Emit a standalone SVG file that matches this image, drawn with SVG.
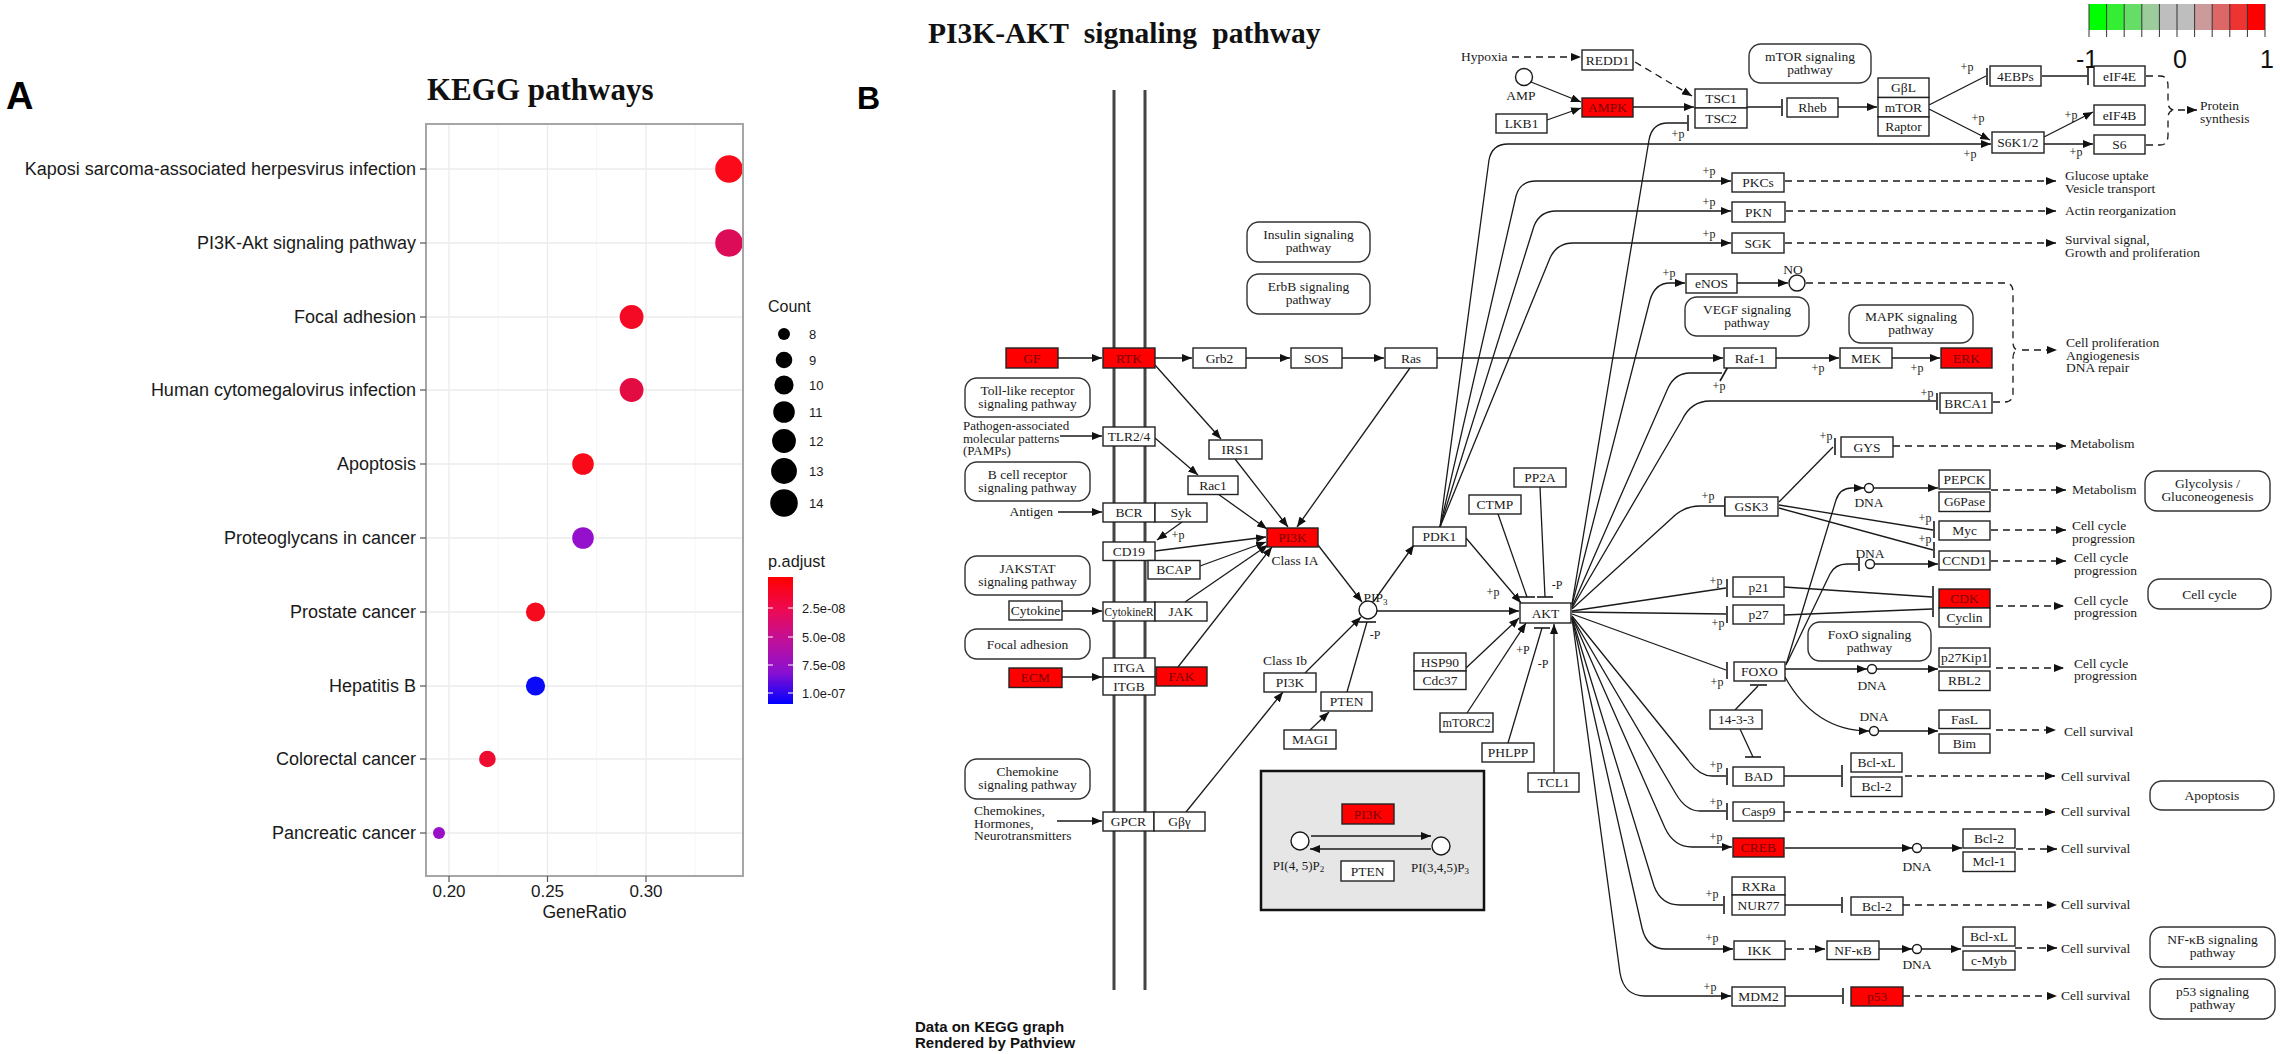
<svg xmlns="http://www.w3.org/2000/svg" width="2280" height="1054" viewBox="0 0 2280 1054">
<defs>
<style>
.sans{font-family:"Liberation Sans",Arial,sans-serif}
.ylab{font-size:18px;fill:#1a1a1a;text-anchor:end}
.xlab{font-size:17px;fill:#1a1a1a;text-anchor:middle}
.leg{font-size:13px;fill:#1a1a1a}
.grid{stroke:#ebebeb;stroke-width:1.3}
.gridm{stroke:#f4f4f4;stroke-width:0.8}
.tick{stroke:#555;stroke-width:1.2}
.box{fill:#fff;stroke:#222;stroke-width:1.4}
.red{fill:#ff0000;stroke:#222;stroke-width:1.4}
.pw{fill:#fff;stroke:#333;stroke-width:1.4}
.k{font-family:"Liberation Serif","Times New Roman",serif;font-size:13.5px;fill:#1a1a1a;text-anchor:middle}
.kl{text-anchor:start}
.kr{text-anchor:end}
.rt{fill:#7a0000}
.p{font-size:12px}
.ln{fill:none;stroke:#1a1a1a;stroke-width:1.3}
.ds{stroke-dasharray:7 5}
.ar{marker-end:url(#arr)}
.bar{stroke:#1a1a1a;stroke-width:1.6;fill:none}
.cir{fill:#fff;stroke:#1a1a1a;stroke-width:1.4}
.mem{stroke:#444;stroke-width:3;fill:none}
</style>
<marker id="arr" viewBox="0 0 10 8" refX="10" refY="4" markerWidth="10" markerHeight="8" markerUnits="userSpaceOnUse" orient="auto"><path d="M0,0 L10,4 L0,8 z" fill="#111"/></marker>
<linearGradient id="padj" x1="0" y1="0" x2="0" y2="1">
<stop offset="0" stop-color="#ff0000"/>
<stop offset="0.25" stop-color="#ee0a50"/>
<stop offset="0.5" stop-color="#c0109a"/>
<stop offset="0.75" stop-color="#8a10d0"/>
<stop offset="1" stop-color="#0000ff"/>
</linearGradient>
</defs>
<rect width="2280" height="1054" fill="#fff"/>

<!-- ================= Panel A ================= -->
<g id="panelA" class="sans">
<text x="6" y="109" style="font-size:38px;font-weight:bold;fill:#000">A</text>
<text x="427" y="100" style="font-family:'Liberation Serif',serif;font-size:31px;font-weight:bold;fill:#111">KEGG pathways</text>
<g id="plotpanel">
<rect x="426" y="124" width="317" height="752" fill="#fff"/>
<g class="gridm">
<line x1="498" y1="124" x2="498" y2="876"/><line x1="596.5" y1="124" x2="596.5" y2="876"/><line x1="695" y1="124" x2="695" y2="876"/>
</g>
<g class="grid">
<line x1="449" y1="124" x2="449" y2="876"/><line x1="547.5" y1="124" x2="547.5" y2="876"/><line x1="646" y1="124" x2="646" y2="876"/>
<line x1="426" y1="169" x2="743" y2="169"/><line x1="426" y1="243" x2="743" y2="243"/><line x1="426" y1="317" x2="743" y2="317"/>
<line x1="426" y1="390" x2="743" y2="390"/><line x1="426" y1="464" x2="743" y2="464"/><line x1="426" y1="538" x2="743" y2="538"/>
<line x1="426" y1="612" x2="743" y2="612"/><line x1="426" y1="686" x2="743" y2="686"/><line x1="426" y1="759" x2="743" y2="759"/>
<line x1="426" y1="833" x2="743" y2="833"/>
</g>
<g id="dots">
<circle cx="729" cy="169" r="13.8" fill="#fb0a1a"/>
<circle cx="729" cy="243" r="13.8" fill="#dc0c58"/>
<circle cx="631.6" cy="317" r="11.9" fill="#f40a24"/>
<circle cx="631.6" cy="390" r="11.9" fill="#e20b42"/>
<circle cx="583" cy="464" r="10.8" fill="#f90a18"/>
<circle cx="583" cy="538" r="10.8" fill="#9510cc"/>
<circle cx="535.5" cy="612" r="9.6" fill="#f60a1e"/>
<circle cx="535.5" cy="686" r="9.6" fill="#0a0af8"/>
<circle cx="487.4" cy="759" r="8.3" fill="#ee0c30"/>
<circle cx="439" cy="833" r="6" fill="#9a10c8"/>
</g>
<rect x="426" y="124" width="317" height="752" fill="none" stroke="#a6a6a6" stroke-width="2"/>
</g>
<g class="tick">
<line x1="420" y1="169" x2="426" y2="169"/><line x1="420" y1="243" x2="426" y2="243"/><line x1="420" y1="317" x2="426" y2="317"/>
<line x1="420" y1="390" x2="426" y2="390"/><line x1="420" y1="464" x2="426" y2="464"/><line x1="420" y1="538" x2="426" y2="538"/>
<line x1="420" y1="612" x2="426" y2="612"/><line x1="420" y1="686" x2="426" y2="686"/><line x1="420" y1="759" x2="426" y2="759"/>
<line x1="420" y1="833" x2="426" y2="833"/>
<line x1="449" y1="876" x2="449" y2="882"/><line x1="547.5" y1="876" x2="547.5" y2="882"/><line x1="646" y1="876" x2="646" y2="882"/>
</g>
<g id="ylabels" class="ylab">
<text x="416" y="175">Kaposi sarcoma-associated herpesvirus infection</text>
<text x="416" y="249">PI3K-Akt signaling pathway</text>
<text x="416" y="323">Focal adhesion</text>
<text x="416" y="396">Human cytomegalovirus infection</text>
<text x="416" y="470">Apoptosis</text>
<text x="416" y="544">Proteoglycans in cancer</text>
<text x="416" y="618">Prostate cancer</text>
<text x="416" y="692">Hepatitis B</text>
<text x="416" y="765">Colorectal cancer</text>
<text x="416" y="839">Pancreatic cancer</text>
</g>
<g id="xlabels" class="xlab">
<text x="449" y="897">0.20</text><text x="547.5" y="897">0.25</text><text x="646" y="897">0.30</text>
<text x="584.5" y="918" style="font-size:17.6px">GeneRatio</text>
</g>
<g id="legend-count">
<text x="768" y="312" style="font-size:16px;fill:#1a1a1a">Count</text>
<circle cx="784" cy="334" r="6" fill="#000"/>
<circle cx="784" cy="360" r="8.3" fill="#000"/>
<circle cx="784" cy="385" r="9.6" fill="#000"/>
<circle cx="784" cy="412" r="10.8" fill="#000"/>
<circle cx="784" cy="441" r="11.9" fill="#000"/>
<circle cx="784" cy="471" r="12.9" fill="#000"/>
<circle cx="784" cy="503" r="13.8" fill="#000"/>
<g class="leg">
<text x="809" y="338.5">8</text><text x="809" y="364.5">9</text><text x="809" y="389.5">10</text><text x="809" y="416.5">11</text>
<text x="809" y="445.5">12</text><text x="809" y="475.5">13</text><text x="809" y="507.5">14</text>
</g>
</g>
<g id="legend-padj">
<text x="768" y="567" style="font-size:16.3px;fill:#1a1a1a">p.adjust</text>
<rect x="768" y="577" width="25" height="127" fill="url(#padj)"/>
<g stroke="#fff" stroke-width="1">
<line x1="768" y1="608" x2="773" y2="608"/><line x1="788" y1="608" x2="793" y2="608"/>
<line x1="768" y1="637" x2="773" y2="637"/><line x1="788" y1="637" x2="793" y2="637"/>
<line x1="768" y1="665" x2="773" y2="665"/><line x1="788" y1="665" x2="793" y2="665"/>
<line x1="768" y1="693" x2="773" y2="693"/><line x1="788" y1="693" x2="793" y2="693"/>
</g>
<g class="leg" style="font-size:12.8px">
<text x="802" y="612.5">2.5e-08</text><text x="802" y="641.5">5.0e-08</text>
<text x="802" y="669.5">7.5e-08</text><text x="802" y="697.5">1.0e-07</text>
</g>
</g>
</g>

<!-- ================= Panel B ================= -->
<g id="panelB-labels">
<text x="857" y="109" class="sans" style="font-size:32px;font-weight:bold;fill:#000">B</text>
<text x="928" y="43" style="font-family:'Liberation Serif',serif;font-size:29.5px;font-weight:bold;fill:#111;word-spacing:8px">PI3K-AKT signaling pathway</text>
<text x="915" y="1032" class="sans" style="font-size:15px;font-weight:bold;fill:#111">Data on KEGG graph</text>
<text x="915" y="1048" class="sans" style="font-size:15px;font-weight:bold;fill:#111">Rendered by Pathview</text>
</g>

<g id="colorkey">
<rect x="2089" y="4" width="17.7" height="26" fill="#00ff00"/>
<rect x="2106.6" y="4" width="17.7" height="26" fill="#33ee33"/>
<rect x="2124.2" y="4" width="17.7" height="26" fill="#66dd66"/>
<rect x="2141.8" y="4" width="17.7" height="26" fill="#9ccb9c"/>
<rect x="2159.4" y="4" width="17.7" height="26" fill="#bebebe"/>
<rect x="2177" y="4" width="17.7" height="26" fill="#bebebe"/>
<rect x="2194.6" y="4" width="17.7" height="26" fill="#cc9a9a"/>
<rect x="2212.2" y="4" width="17.7" height="26" fill="#dd6666"/>
<rect x="2229.8" y="4" width="17.7" height="26" fill="#ee3333"/>
<rect x="2247.4" y="4" width="17.6" height="26" fill="#ff0000"/>
<g stroke="#333" stroke-width="1">
<line x1="2089" y1="4" x2="2089" y2="37"/><line x1="2106.6" y1="4" x2="2106.6" y2="37"/><line x1="2124.2" y1="4" x2="2124.2" y2="37"/>
<line x1="2141.8" y1="4" x2="2141.8" y2="37"/><line x1="2159.4" y1="4" x2="2159.4" y2="37"/><line x1="2177" y1="4" x2="2177" y2="37"/>
<line x1="2194.6" y1="4" x2="2194.6" y2="37"/><line x1="2212.2" y1="4" x2="2212.2" y2="37"/><line x1="2229.8" y1="4" x2="2229.8" y2="37"/>
<line x1="2247.4" y1="4" x2="2247.4" y2="37"/><line x1="2265" y1="4" x2="2265" y2="37"/>
</g>
<g class="sans" style="font-size:25px;fill:#111;text-anchor:middle">
<text x="2087" y="68">-1</text><text x="2180" y="68">0</text><text x="2267" y="68">1</text>
</g>
</g>

<g id="membrane">
<line class="mem" x1="1114" y1="90" x2="1114" y2="990"/>
<line class="mem" x1="1145" y1="90" x2="1145" y2="990"/>
</g>

<g id="inset-bg">
<rect x="1261" y="771" width="223" height="139" fill="#e6e6e6" stroke="#111" stroke-width="2.5"/>
</g>

<!-- ================= Connectors ================= -->
<g id="connectors">
<g class="ln ar">
<path d="M1058,358 L1102,358"/>
<path d="M1155,358 L1192,358"/>
<path d="M1246,358 L1290,358"/>
<path d="M1342,358 L1384,358"/>
<path d="M1437,358 L1723,358"/>
<path d="M1776,358 L1839,358"/>
<path d="M1892,358 L1940,358"/>
<path d="M1060,436 L1102,436"/>
<path d="M1058,512 L1102,512"/>
<path d="M1062,611 L1102,611"/>
<path d="M1062,677 L1102,677"/>
<path d="M1057,821 L1102,821"/>
<path d="M1155,365 L1221,439"/>
<path d="M1155,438 L1198,475"/>
<path d="M1235,459 L1288,527"/>
<path d="M1218,494 L1267,529"/>
<path d="M1410,368 L1297,527"/>
<path d="M1182,522 L1157,540"/>
<path d="M1155,551 L1266,537"/>
<path d="M1200,566 L1266,542"/>
<path d="M1185,602 L1268,545"/>
<path d="M1178,667 L1272,547"/>
<path d="M1186,812 L1283,692"/>
<path d="M1318,545 L1362,602"/>
<path d="M1305,673 L1361,617"/>
<path d="M1374,601 L1414,545"/>
<path d="M1377,611 L1519,611"/>
<path d="M1466,538 L1521,603"/>
<path d="M1466,668 L1519,618"/>
<path d="M1467,713 L1526,623"/>
<path d="M1554,773 L1554,624"/>
<path d="M1310,730 L1329,712"/>
<path d="M1531,82 L1581,102"/>
<path d="M1547,120 L1581,108"/>
<path d="M1633,107 L1694,107"/>
<path d="M1838,107 L1877,107"/>
<path d="M1929,109 L1990,140"/>
<path d="M2044,137 L2093,112"/>
<path d="M2044,144 L2093,144"/>
<path d="M1737,283 L1788,283"/>
<path d="M1440,527 L1489,160 Q1492,144 1508,144 L1991,144"/>
<path d="M1440,527 L1516,196 Q1520,181 1536,181 L1731,181"/>
<path d="M1440,527 L1534,226 Q1540,211 1556,211 L1731,211"/>
<path d="M1440,527 L1550,258 Q1557,243 1573,243 L1731,243"/>
<path d="M1572,605 L1650,300 Q1655,283 1670,283 L1685,283"/>
<path d="M1786,665 L1836,500 Q1840,488 1852,488 L1864,488"/>
<path d="M1874,488 L1938,488"/>
<path d="M1875,564 L1938,564"/>
<path d="M1785,669 L1867,669"/>
<path d="M1877,669 L1938,669"/>
<path d="M1785,677 Q1815,731 1869,731"/>
<path d="M1879,731 L1938,731"/>
<path d="M1785,848 L1912,848"/>
<path d="M1922,848 L1962,848"/>
<path d="M1879,949 L1912,949"/>
<path d="M1922,949 L1961,949"/>
<path d="M1572,617 L1665,828 Q1674,847 1692,847 L1732,847"/>
<path d="M1572,618 L1642,928 Q1647,949 1666,949 L1733,949"/>
<path d="M1572,618 L1620,973 Q1624,996 1645,996 L1731,996"/>
<path d="M1311,836 L1431,836"/>
<path d="M1431,849 L1310,849"/>
</g>
<g class="ln">
<path d="M1747,107 L1781,107"/>
<path d="M1572,604 L1649,140 Q1652,123 1668,123 L1687,123"/>
<path d="M2042,76 L2087,76"/>
<path d="M1929,105 L1986,76"/>
<path d="M1498,514 L1527,597"/>
<path d="M1540,487 L1545,597"/>
<path d="M1347,692 L1367,622"/>
<path d="M1508,743 L1542,628"/>
<path d="M1572,607 L1668,388 Q1675,373 1690,373 L1722,373"/>
<path d="M1572,608 L1682,420 Q1691,401 1710,401 L1936,401"/>
<path d="M1572,609 L1672,518 Q1684,506 1700,506 L1724,506"/>
<path d="M1779,502 L1833,447"/>
<path d="M1779,505 L1933,530"/>
<path d="M1779,508 L1933,550"/>
<path d="M1572,611 L1726,588"/>
<path d="M1572,612 L1726,614"/>
<path d="M1572,614 L1726,670"/>
<path d="M1784,587 L1932,597"/>
<path d="M1784,615 L1932,609"/>
<path d="M1787,663 L1830,574 Q1835,564 1847,564 L1858,564"/>
<path d="M1735,710 L1758,686"/>
<path d="M1740,729 L1753,757"/>
<path d="M1572,616 L1688,760 Q1699,776 1712,776 L1726,776"/>
<path d="M1572,617 L1676,794 Q1686,811 1700,811 L1726,811"/>
<path d="M1572,618 L1654,886 Q1661,905 1680,905 L1723,905"/>
<path d="M1784,776 L1841,776"/>
<path d="M1785,905 L1841,905"/>
<path d="M1785,996 L1842,996"/>
</g>
<g class="bar">
<path d="M1782,99 L1782,116"/>
<path d="M1688,115 L1688,131"/>
<path d="M2088,68 L2088,85"/>
<path d="M1987,68 L1987,85"/>
<path d="M1519,597 L1535,597"/>
<path d="M1537,597 L1553,597"/>
<path d="M1359,622 L1376,622"/>
<path d="M1534,628 L1550,628"/>
<path d="M1720,381 L1729,365"/>
<path d="M1937,393 L1937,410"/>
<path d="M1725,498 L1725,515"/>
<path d="M1835,438 L1835,455"/>
<path d="M1934,521 L1934,538"/>
<path d="M1934,542 L1934,558"/>
<path d="M1727,579 L1727,597"/>
<path d="M1727,606 L1727,623"/>
<path d="M1727,662 L1727,679"/>
<path d="M1933,586 L1933,617"/>
<path d="M1859,557 L1859,571"/>
<path d="M1750,685 L1767,685"/>
<path d="M1745,757 L1761,757"/>
<path d="M1727,768 L1727,785"/>
<path d="M1727,803 L1727,820"/>
<path d="M1724,896 L1724,914"/>
<path d="M1842,765 L1842,787"/>
<path d="M1842,897 L1842,913"/>
<path d="M1843,988 L1843,1004"/>
</g>
<g class="ln ds ar">
<path d="M1512,57 L1581,57"/>
<path d="M1635,62 L1692,96"/>
<path d="M1785,181 L2056,181"/>
<path d="M1786,211 L2056,211"/>
<path d="M1785,243 L2056,243"/>
<path d="M1893,446 L2066,446"/>
<path d="M1991,490 L2066,490"/>
<path d="M1991,530 L2066,530"/>
<path d="M1991,561 L2066,561"/>
<path d="M1996,606 L2064,606"/>
<path d="M1996,668 L2064,668"/>
<path d="M1996,730 L2056,730"/>
<path d="M1905,776 L2055,776"/>
<path d="M1784,812 L2055,812"/>
<path d="M2016,849 L2057,849"/>
<path d="M1903,905 L2057,905"/>
<path d="M2015,948 L2057,948"/>
<path d="M1903,996 L2057,996"/>
<path d="M1785,949 L1825,949"/>
<path d="M2178,110 L2197,110"/>
<path d="M2022,350 L2057,350"/>
</g>
<g class="ln ds">
<path d="M2146,76 L2160,76 Q2168,76 2168,86 L2168,102 Q2168,110 2175,110"/>
<path d="M2146,145 L2160,145 Q2168,145 2168,135 L2168,118 Q2168,110 2175,110"/>
<path d="M1806,283 L2005,283 Q2013,283 2013,292 L2013,342 Q2013,350 2019,350"/>
<path d="M1993,402 L2005,402 Q2013,402 2013,393 L2013,358 Q2013,350 2019,350"/>
</g>
</g>

<!-- ================= Nodes ================= -->
<g id="nodes">
<g id="n-GF"><rect class="red" x="1006" y="348" width="52" height="20"/><text class="k rt" x="1032" y="362.5">GF</text></g>
<g id="n-RTK"><rect class="red" x="1103" y="348" width="52" height="20"/><text class="k rt" x="1129" y="362.5">RTK</text></g>
<g id="n-TLR24"><rect class="box" x="1103" y="427" width="52" height="19"/><text class="k" x="1129" y="441">TLR2/4</text></g>
<g id="n-BCR"><rect class="box" x="1103" y="503" width="52" height="19"/><text class="k" x="1129" y="517">BCR</text></g>
<g id="n-Syk"><rect class="box" x="1155" y="503" width="52" height="19"/><text class="k" x="1181" y="517">Syk</text></g>
<g id="n-CD19"><rect class="box" x="1103" y="542" width="52" height="18.5"/><text class="k" x="1129" y="555.7">CD19</text></g>
<g id="n-BCAP"><rect class="box" x="1148" y="560.5" width="52" height="18.5"/><text class="k" x="1174" y="574">BCAP</text></g>
<g id="n-Cytokine"><rect class="box" x="1009" y="601" width="53" height="19"/><text class="k" x="1035.5" y="615">Cytokine</text></g>
<g id="n-CytokineR"><rect class="box" x="1103" y="602" width="52" height="19"/><text class="k" x="1129" y="616" textLength="49" lengthAdjust="spacingAndGlyphs">CytokineR</text></g>
<g id="n-JAK"><rect class="box" x="1155" y="602" width="52" height="19"/><text class="k" x="1181" y="616">JAK</text></g>
<g id="n-ECM"><rect class="red" x="1009" y="668" width="53" height="19.5"/><text class="k rt" x="1035.5" y="682.2">ECM</text></g>
<g id="n-ITGA"><rect class="box" x="1103" y="658" width="52" height="19"/><text class="k" x="1129" y="672">ITGA</text></g>
<g id="n-ITGB"><rect class="box" x="1103" y="677" width="52" height="18"/><text class="k" x="1129" y="690.5">ITGB</text></g>
<g id="n-FAK"><rect class="red" x="1156" y="667" width="51" height="19"/><text class="k rt" x="1181.5" y="681">FAK</text></g>
<g id="n-GPCR"><rect class="box" x="1103" y="812" width="51" height="19"/><text class="k" x="1128.5" y="826">GPCR</text></g>
<g id="n-Gbg"><rect class="box" x="1154" y="812" width="51" height="19"/><text class="k" x="1179.5" y="826">Gβγ</text></g>
<g id="n-Grb2"><rect class="box" x="1193" y="348" width="53" height="20"/><text class="k" x="1219.5" y="362.5">Grb2</text></g>
<g id="n-SOS"><rect class="box" x="1291" y="348" width="51" height="20"/><text class="k" x="1316.5" y="362.5">SOS</text></g>
<g id="n-Ras"><rect class="box" x="1385" y="348" width="52" height="20"/><text class="k" x="1411" y="362.5">Ras</text></g>
<g id="n-IRS1"><rect class="box" x="1209" y="440" width="53" height="19"/><text class="k" x="1235.5" y="454">IRS1</text></g>
<g id="n-Rac1"><rect class="box" x="1188" y="476" width="50" height="18.5"/><text class="k" x="1213" y="489.7">Rac1</text></g>
<g id="n-PI3K-IA"><rect class="red" x="1267" y="528" width="51" height="19"/><text class="k rt" x="1292.5" y="542">PI3K</text><text class="k" x="1295" y="564.5">Class IA</text></g>
<g id="n-PDK1"><rect class="box" x="1413" y="527" width="53" height="19"/><text class="k" x="1439.5" y="541">PDK1</text></g>
<g id="n-CTMP"><rect class="box" x="1469" y="495" width="52" height="19"/><text class="k" x="1495" y="509">CTMP</text></g>
<g id="n-PP2A"><rect class="box" x="1514" y="468" width="52" height="19"/><text class="k" x="1540" y="482">PP2A</text></g>
<g id="n-AKT"><rect class="box" x="1520" y="603" width="51" height="20"/><text class="k" x="1545.5" y="617.5">AKT</text></g>
<g id="n-PIP3"><circle class="cir" cx="1368" cy="610" r="9"/><text class="k" x="1375.5" y="602">PIP<tspan font-size="9" dy="3">3</tspan></text></g>
<g id="n-PI3K-Ib"><rect class="box" x="1264" y="673" width="52" height="19"/><text class="k" x="1290" y="687">PI3K</text><text class="k" x="1285" y="665">Class Ib</text></g>
<g id="n-PTEN"><rect class="box" x="1321" y="692" width="51" height="19"/><text class="k" x="1346.5" y="706">PTEN</text></g>
<g id="n-MAGI"><rect class="box" x="1284" y="730" width="52" height="19"/><text class="k" x="1310" y="744">MAGI</text></g>
<g id="n-HSP90"><rect class="box" x="1414" y="653" width="52" height="18"/><text class="k" x="1440" y="666.5">HSP90</text></g>
<g id="n-Cdc37"><rect class="box" x="1414" y="671" width="52" height="18.5"/><text class="k" x="1440" y="684.7">Cdc37</text></g>
<g id="n-mTORC2"><rect class="box" x="1440" y="713" width="53" height="19"/><text class="k" x="1466.5" y="727" textLength="48" lengthAdjust="spacingAndGlyphs">mTORC2</text></g>
<g id="n-PHLPP"><rect class="box" x="1482" y="743" width="52" height="19"/><text class="k" x="1508" y="757">PHLPP</text></g>
<g id="n-TCL1"><rect class="box" x="1528" y="773" width="51" height="19"/><text class="k" x="1553.5" y="787">TCL1</text></g>
<g id="n-inset">
<rect class="red" x="1342" y="804" width="52" height="20"/><text class="k rt" x="1368" y="818.5">PI3K</text>
<circle class="cir" cx="1300" cy="841" r="9"/><circle class="cir" cx="1441" cy="846" r="9"/>
<rect class="box" x="1341" y="861" width="53" height="20"/><text class="k" x="1367.5" y="875.5">PTEN</text>
<text class="k" x="1298.5" y="870" style="font-size:13px">PI(4, 5)P<tspan font-size="9" dy="2">2</tspan></text>
<text class="k" x="1440" y="872" style="font-size:13px">PI(3,4,5)P<tspan font-size="9" dy="2">3</tspan></text>
</g>
<g id="n-REDD1"><rect class="box" x="1582" y="50" width="51" height="20"/><text class="k" x="1607.5" y="64.5">REDD1</text></g>
<g id="n-AMP"><circle class="cir" cx="1524" cy="77" r="8.5"/><text class="k" x="1521" y="99.5">AMP</text></g>
<g id="n-AMPK"><rect class="red" x="1582" y="98" width="51" height="19"/><text class="k rt" x="1607.5" y="112">AMPK</text></g>
<g id="n-LKB1"><rect class="box" x="1496" y="114" width="51" height="19"/><text class="k" x="1521.5" y="128">LKB1</text></g>
<g id="n-TSC1"><rect class="box" x="1695" y="89" width="52" height="19"/><text class="k" x="1721" y="103">TSC1</text></g>
<g id="n-TSC2"><rect class="box" x="1695" y="108" width="52" height="20"/><text class="k" x="1721" y="122.5">TSC2</text></g>
<g id="n-Rheb"><rect class="box" x="1787" y="98" width="51" height="19"/><text class="k" x="1812.5" y="112">Rheb</text></g>
<g id="n-GbL"><rect class="box" x="1878" y="78" width="51" height="19.5"/><text class="k" x="1903.5" y="92.2">GβL</text></g>
<g id="n-mTOR"><rect class="box" x="1878" y="97.5" width="51" height="19.5"/><text class="k" x="1903.5" y="111.7">mTOR</text></g>
<g id="n-Raptor"><rect class="box" x="1878" y="117" width="51" height="19"/><text class="k" x="1903.5" y="131">Raptor</text></g>
<g id="n-4EBPs"><rect class="box" x="1990" y="66" width="51" height="20"/><text class="k" x="2015.5" y="80.5">4EBPs</text></g>
<g id="n-eIF4E"><rect class="box" x="2094" y="66" width="51" height="20"/><text class="k" x="2119.5" y="80.5">eIF4E</text></g>
<g id="n-eIF4B"><rect class="box" x="2094" y="105" width="51" height="20"/><text class="k" x="2119.5" y="119.5">eIF4B</text></g>
<g id="n-S6K"><rect class="box" x="1992" y="132" width="52" height="21"/><text class="k" x="2018" y="147">S6K1/2</text></g>
<g id="n-S6"><rect class="box" x="2094" y="135" width="51" height="19"/><text class="k" x="2119.5" y="149">S6</text></g>
<g id="n-PKCs"><rect class="box" x="1732" y="173" width="52" height="19"/><text class="k" x="1758" y="187">PKCs</text></g>
<g id="n-PKN"><rect class="box" x="1732" y="202" width="53" height="20"/><text class="k" x="1758.5" y="216.5">PKN</text></g>
<g id="n-SGK"><rect class="box" x="1732" y="233" width="52" height="20"/><text class="k" x="1758" y="247.5">SGK</text></g>
<g id="n-eNOS"><rect class="box" x="1686" y="274" width="51" height="19"/><text class="k" x="1711.5" y="288">eNOS</text></g>
<g id="n-NO"><circle class="cir" cx="1797" cy="283" r="8"/><text class="k" x="1793" y="274">NO</text></g>
<g id="n-Raf1"><rect class="box" x="1724" y="348" width="52" height="20"/><text class="k" x="1750" y="362.5">Raf-1</text></g>
<g id="n-MEK"><rect class="box" x="1840" y="348" width="52" height="20"/><text class="k" x="1866" y="362.5">MEK</text></g>
<g id="n-ERK"><rect class="red" x="1941" y="348" width="51" height="20"/><text class="k rt" x="1966.5" y="362.5">ERK</text></g>
<g id="n-BRCA1"><rect class="box" x="1940" y="393" width="52" height="20"/><text class="k" x="1966" y="407.5">BRCA1</text></g>
<g id="n-GYS"><rect class="box" x="1841" y="437" width="52" height="20"/><text class="k" x="1867" y="451.5">GYS</text></g>
<g id="n-PEPCK"><rect class="box" x="1939" y="470" width="51" height="19"/><text class="k" x="1964.5" y="484">PEPCK</text></g>
<g id="n-G6Pase"><rect class="box" x="1939" y="492" width="51" height="19.5"/><text class="k" x="1964.5" y="506.2">G6Pase</text></g>
<g id="n-GSK3"><rect class="box" x="1725" y="497" width="53" height="19"/><text class="k" x="1751.5" y="511">GSK3</text></g>
<g id="n-Myc"><rect class="box" x="1939" y="521" width="51" height="19"/><text class="k" x="1964.5" y="535">Myc</text></g>
<g id="n-CCND1"><rect class="box" x="1939" y="551" width="51" height="19"/><text class="k" x="1964.5" y="565">CCND1</text></g>
<g id="n-p21"><rect class="box" x="1733" y="577" width="51" height="20"/><text class="k" x="1758.5" y="591.5">p21</text></g>
<g id="n-p27"><rect class="box" x="1733" y="605" width="51" height="19"/><text class="k" x="1758.5" y="619">p27</text></g>
<g id="n-CDK"><rect class="red" x="1939" y="589" width="51" height="19"/><text class="k rt" x="1964.5" y="603">CDK</text></g>
<g id="n-Cyclin"><rect class="box" x="1939" y="608" width="51" height="19"/><text class="k" x="1964.5" y="622">Cyclin</text></g>
<g id="n-FOXO"><rect class="box" x="1734" y="662" width="51" height="19"/><text class="k" x="1759.5" y="676">FOXO</text></g>
<g id="n-p27Kip1"><rect class="box" x="1939" y="648" width="51" height="19"/><text class="k" x="1964.5" y="662">p27Kip1</text></g>
<g id="n-RBL2"><rect class="box" x="1939" y="671" width="51" height="19.5"/><text class="k" x="1964.5" y="685.2">RBL2</text></g>
<g id="n-1433"><rect class="box" x="1710" y="710" width="52" height="19"/><text class="k" x="1736" y="724">14-3-3</text></g>
<g id="n-FasL"><rect class="box" x="1939" y="710" width="51" height="18.5"/><text class="k" x="1964.5" y="723.7">FasL</text></g>
<g id="n-Bim"><rect class="box" x="1939" y="734" width="51" height="19"/><text class="k" x="1964.5" y="748">Bim</text></g>
<g id="n-BAD"><rect class="box" x="1733" y="767" width="51" height="19"/><text class="k" x="1758.5" y="781">BAD</text></g>
<g id="n-BclxL-1"><rect class="box" x="1851" y="753" width="51" height="19"/><text class="k" x="1876.5" y="767">Bcl-xL</text></g>
<g id="n-Bcl2-1"><rect class="box" x="1851" y="777" width="51" height="19.5"/><text class="k" x="1876.5" y="791.2">Bcl-2</text></g>
<g id="n-Casp9"><rect class="box" x="1733" y="802" width="51" height="19"/><text class="k" x="1758.5" y="816">Casp9</text></g>
<g id="n-CREB"><rect class="red" x="1733" y="838" width="51" height="19"/><text class="k rt" x="1758.5" y="852">CREB</text></g>
<g id="n-Bcl2-2"><rect class="box" x="1963" y="829" width="52" height="19"/><text class="k" x="1989" y="843">Bcl-2</text></g>
<g id="n-Mcl1"><rect class="box" x="1963" y="852" width="52" height="19.5"/><text class="k" x="1989" y="866.2">Mcl-1</text></g>
<g id="n-RXRa"><rect class="box" x="1732" y="877" width="53" height="18"/><text class="k" x="1758.5" y="890.5">RXRa</text></g>
<g id="n-NUR77"><rect class="box" x="1732" y="895" width="53" height="20"/><text class="k" x="1758.5" y="909.5">NUR77</text></g>
<g id="n-Bcl2-3"><rect class="box" x="1851" y="897" width="52" height="18"/><text class="k" x="1877" y="910.5">Bcl-2</text></g>
<g id="n-IKK"><rect class="box" x="1734" y="941" width="51" height="18.5"/><text class="k" x="1759.5" y="954.7">IKK</text></g>
<g id="n-NFkB"><rect class="box" x="1827" y="941" width="52" height="18.5"/><text class="k" x="1853" y="954.7">NF-κB</text></g>
<g id="n-BclxL-2"><rect class="box" x="1963" y="927" width="52" height="19"/><text class="k" x="1989" y="941">Bcl-xL</text></g>
<g id="n-cMyb"><rect class="box" x="1963" y="951" width="52" height="19"/><text class="k" x="1989" y="965">c-Myb</text></g>
<g id="n-MDM2"><rect class="box" x="1732" y="987" width="53" height="19"/><text class="k" x="1758.5" y="1001">MDM2</text></g>
<g id="n-p53"><rect class="red" x="1851" y="987" width="52" height="19"/><text class="k rt" x="1877" y="1001">p53</text></g>
<g id="dna">
<circle class="cir" cx="1869" cy="488" r="4.5"/><circle class="cir" cx="1870" cy="564" r="4.5"/>
<circle class="cir" cx="1872" cy="669" r="4.5"/><circle class="cir" cx="1874" cy="731" r="4.5"/>
<circle class="cir" cx="1917" cy="848" r="4.5"/><circle class="cir" cx="1917" cy="949" r="4.5"/>
<g class="k">
<text x="1869" y="507">DNA</text><text x="1870" y="557.5">DNA</text><text x="1872" y="689.5">DNA</text>
<text x="1874" y="721">DNA</text><text x="1917" y="870.5">DNA</text><text x="1917" y="968.5">DNA</text>
</g>
</g>
</g>

<g id="maps" class="k">
<g id="m-toll"><rect class="pw" x="965" y="378" width="125" height="39" rx="12"/><text x="1027.5" y="394.5">Toll-like receptor</text><text x="1027.5" y="407.5">signaling pathway</text></g>
<g id="m-bcell"><rect class="pw" x="965" y="462" width="125" height="39" rx="12"/><text x="1027.5" y="478.5">B cell receptor</text><text x="1027.5" y="491.5">signaling pathway</text></g>
<g id="m-jakstat"><rect class="pw" x="965" y="556" width="125" height="39" rx="12"/><text x="1027.5" y="572.5">JAKSTAT</text><text x="1027.5" y="585.5">signaling pathway</text></g>
<g id="m-focal"><rect class="pw" x="965" y="629" width="125" height="30" rx="12"/><text x="1027.5" y="648.5">Focal adhesion</text></g>
<g id="m-chemokine"><rect class="pw" x="965" y="759" width="125" height="40" rx="12"/><text x="1027.5" y="776">Chemokine</text><text x="1027.5" y="789">signaling pathway</text></g>
<g id="m-insulin"><rect class="pw" x="1247" y="222" width="123" height="40" rx="12"/><text x="1308.5" y="239">Insulin signaling</text><text x="1308.5" y="252">pathway</text></g>
<g id="m-erbb"><rect class="pw" x="1247" y="274" width="123" height="40" rx="12"/><text x="1308.5" y="291">ErbB signaling</text><text x="1308.5" y="304">pathway</text></g>
<g id="m-mtor"><rect class="pw" x="1749" y="44" width="122" height="39" rx="12"/><text x="1810" y="60.5">mTOR signaling</text><text x="1810" y="73.5">pathway</text></g>
<g id="m-vegf"><rect class="pw" x="1685" y="297" width="124" height="39" rx="12"/><text x="1747" y="313.5">VEGF signaling</text><text x="1747" y="326.5">pathway</text></g>
<g id="m-mapk"><rect class="pw" x="1849" y="305" width="124" height="38" rx="12"/><text x="1911" y="321">MAPK signaling</text><text x="1911" y="334">pathway</text></g>
<g id="m-glyco"><rect class="pw" x="2145" y="471" width="125" height="40" rx="12"/><text x="2207.5" y="488">Glycolysis /</text><text x="2207.5" y="501">Gluconeogenesis</text></g>
<g id="m-cellcycle"><rect class="pw" x="2148" y="579" width="123" height="30" rx="12"/><text x="2209.5" y="598.5">Cell cycle</text></g>
<g id="m-foxo"><rect class="pw" x="1808" y="622" width="123" height="39" rx="12"/><text x="1869.5" y="638.5">FoxO signaling</text><text x="1869.5" y="651.5">pathway</text></g>
<g id="m-apoptosis"><rect class="pw" x="2150" y="781" width="124" height="29" rx="12"/><text x="2212" y="800">Apoptosis</text></g>
<g id="m-nfkb"><rect class="pw" x="2150" y="927" width="125" height="40" rx="12"/><text x="2212.5" y="944">NF-κB signaling</text><text x="2212.5" y="957">pathway</text></g>
<g id="m-p53"><rect class="pw" x="2150" y="979" width="125" height="40" rx="12"/><text x="2212.5" y="996">p53 signaling</text><text x="2212.5" y="1009">pathway</text></g>
</g>

<g id="labels" class="k kl">
<text x="963" y="430" style="font-size:13px">Pathogen-associated</text>
<text x="963" y="443" style="font-size:13px">molecular patterns</text>
<text x="963" y="455" style="font-size:13px">(PAMPs)</text>
<text x="1053" y="516" style="text-anchor:end">Antigen</text>
<text x="974" y="815">Chemokines,</text>
<text x="974" y="828">Hormones,</text>
<text x="974" y="840">Neurotransmitters</text>
<text x="1461" y="61">Hypoxia</text>
<text x="2200" y="110">Protein</text><text x="2200" y="122.5">synthesis</text>
<text x="2065" y="179.5">Glucose uptake</text><text x="2065" y="192.5">Vesicle transport</text>
<text x="2065" y="215">Actin reorganization</text>
<text x="2065" y="244">Survival signal,</text><text x="2065" y="257">Growth and proliferation</text>
<text x="2066" y="347">Cell proliferation</text><text x="2066" y="359.5">Angiogenesis</text><text x="2066" y="371.5">DNA repair</text>
<text x="2070" y="447.5">Metabolism</text>
<text x="2072" y="493.5">Metabolism</text>
<text x="2072" y="530">Cell cycle</text><text x="2072" y="542.5">progression</text>
<text x="2074" y="562">Cell cycle</text><text x="2074" y="575">progression</text>
<text x="2074" y="604.5">Cell cycle</text><text x="2074" y="617">progression</text>
<text x="2074" y="667.5">Cell cycle</text><text x="2074" y="680">progression</text>
<text x="2064" y="736">Cell survival</text>
<text x="2061" y="781">Cell survival</text>
<text x="2061" y="816">Cell survival</text>
<text x="2061" y="853">Cell survival</text>
<text x="2061" y="909">Cell survival</text>
<text x="2061" y="953">Cell survival</text>
<text x="2061" y="1000">Cell survival</text>
</g>
<g id="plabels" class="k p">
<text x="1678" y="138">+p</text>
<text x="1709" y="175">+p</text>
<text x="1709" y="206">+p</text>
<text x="1709" y="238">+p</text>
<text x="1669" y="277">+p</text>
<text x="1970" y="158">+p</text>
<text x="1967" y="71">+p</text>
<text x="1978" y="122">+p</text>
<text x="2071" y="119">+p</text>
<text x="2076" y="156">+p</text>
<text x="1818" y="372">+p</text>
<text x="1917" y="372">+p</text>
<text x="1719" y="390">+p</text>
<text x="1927" y="397">+p</text>
<text x="1826" y="440">+p</text>
<text x="1708" y="500">+p</text>
<text x="1925" y="522">+p</text>
<text x="1925" y="543">+p</text>
<text x="1716" y="585">+p</text>
<text x="1718" y="627">+p</text>
<text x="1717" y="686">+p</text>
<text x="1716" y="769">+p</text>
<text x="1716" y="806">+p</text>
<text x="1716" y="841">+p</text>
<text x="1712" y="898">+p</text>
<text x="1712" y="942">+p</text>
<text x="1710" y="991">+p</text>
<text x="1178" y="539">+p</text>
<text x="1493" y="596">+p</text>
<text x="1557" y="589">-P</text>
<text x="1375" y="639">-P</text>
<text x="1523" y="654">+P</text>
<text x="1543" y="668">-P</text>
</g>
</svg>
